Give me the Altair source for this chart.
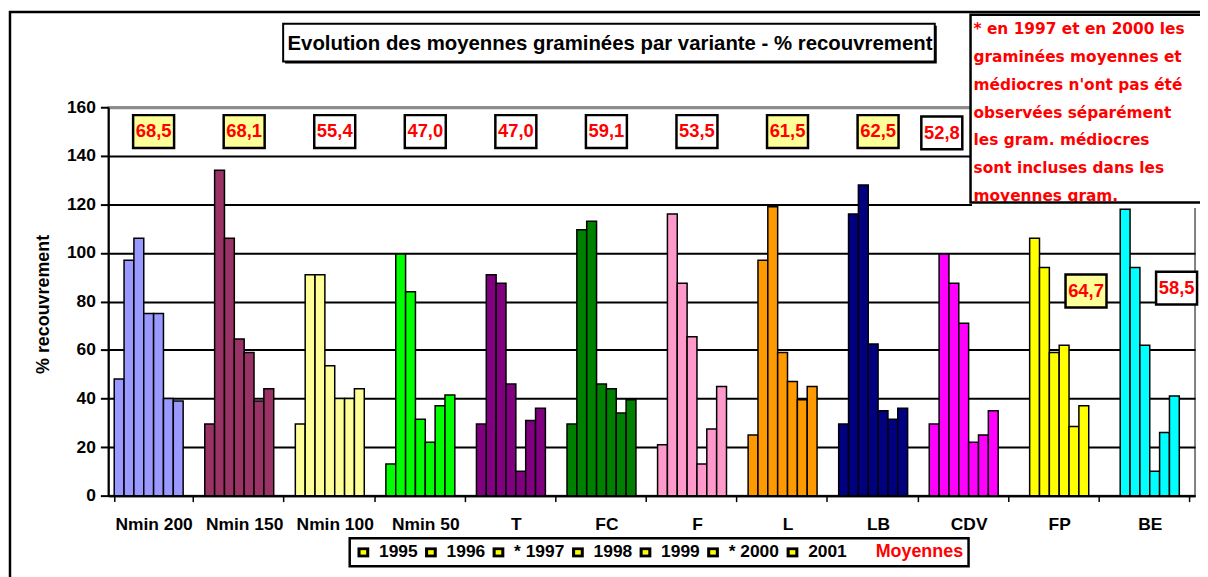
import altair as alt
import pandas as pd

# ---------------- data ----------------
categories = ["Nmin 200", "Nmin 150", "Nmin 100", "Nmin 50", "T", "FC",
              "F", "L", "LB", "CDV", "FP", "BE"]
years = ["1995", "1996", "* 1997", "1998", "1999", "* 2000", "2001"]
series_keys = years + ["Moyennes"]

v_nmin200 = [48, 97, 106, 75, 75, 40, 39]
v_nmin150 = [29.5, 134, 106, 64.5, 59, 39, 44]
v_nmin100 = [29.5, 91, 91, 53.5, 40, 40, 44]
v_nmin50 = [13, 99.5, 84, 31.5, 22, 37, 41.5]
v_t = [29.5, 91, 87.5, 46, 10, 31, 36]
v_fc = [29.5, 109.5, 113, 46, 44, 34, 39.5]
v_f = [21, 116, 87.5, 65.5, 13, 27.5, 45]
v_l = [25, 97, 119, 59, 47, 39.5, 45]
v_lb = [29.5, 116, 128, 62.5, 35, 31.5, 36]
v_cdv = [29.5, 99.5, 87.5, 71, 22, 25, 35]
v_fp = [None, 106, 94, 59, 62, 28.5, 37]
v_be = [None, 118, 94, 62, 10, 26, 41]
all_values = [v_nmin200, v_nmin150, v_nmin100, v_nmin50, v_t, v_fc,
              v_f, v_l, v_lb, v_cdv, v_fp, v_be]

colors = ["#9999FF", "#993366", "#FFFF99", "#00FF00", "#800080", "#008000",
          "#FF99CC", "#FF9900", "#000080", "#FF00FF", "#FFFF00", "#00FFFF"]

means = ["68,5", "68,1", "55,4", "47,0", "47,0", "59,1",
         "53,5", "61,5", "62,5", "52,8", "64,7", "58,5"]
means_highlight = [1, 1, 0, 0, 0, 0, 0, 1, 1, 0, 1, 0]
means_level = [150, 150, 150, 150, 150, 150, 150, 150, 150, 149.4, 84.3, 85.5]

title_text = "Evolution des moyennes graminées par variante - % recouvrement"
note_lines = ["* en 1997 et en 2000 les",
              "graminées moyennes et",
              "médiocres n'ont pas été",
              "observées séparément",
              "les  gram. médiocres",
              "sont incluses dans les",
              "moyennes gram."]

rows = []
for cat, vals in zip(categories, all_values):
    for yr, v in zip(years, vals):
        if v is not None:
            rows.append({"category": cat, "year": yr, "value": v})
bars_df = pd.DataFrame(rows)
labels_df = pd.DataFrame({"category": categories, "mean": means,
                          "hl": means_highlight, "ypos": means_level})
one = pd.DataFrame({"k": [0]})

# ---------------- styling ----------------
W, H = 1094, 391
FONT = "Liberation Sans"


def xenc():
    return alt.X("category:N", sort=categories,
                 scale=alt.Scale(domain=categories, paddingInner=0.13, paddingOuter=0.065),
                 axis=alt.Axis(title=None, labelAngle=0, labelFont=FONT, labelFontSize=17.5,
                               labelFontWeight="bold", labelColor="black", labelPadding=14,
                               tickSize=6, tickColor="black", tickWidth=1.5, tickBand="extent",
                               domainColor="black", domainWidth=2, grid=False))


def yenc(field):
    return alt.Y(field, scale=alt.Scale(domain=[0, 160], nice=False),
                 axis=alt.Axis(title="% recouvrement", values=list(range(0, 161, 20)),
                               titleFont=FONT, titleFontSize=18, titleFontWeight="bold",
                               titleColor="black", titleAngle=270, titleBaseline="bottom",
                               titleAlign="center", titleX=-56, titleY=198,
                               labelFont=FONT, labelFontSize=17.5, labelFontWeight="bold",
                               labelColor="black", labelPadding=5,
                               tickSize=8, tickColor="black", tickWidth=2,
                               domainColor="black", domainWidth=2,
                               grid=True,
                               gridColor={"condition": {"test": "datum.value === 160", "value": "#8c8c8c"}, "value": "black"},
                               gridWidth={"condition": {"test": "datum.value === 160", "value": 3}, "value": 2}))


# outer border of chart area
outer = alt.Chart(one).mark_rect(fill="transparent", stroke="black", strokeWidth=2.5).encode(
    x=alt.value(-99), x2=alt.value(W + 20), y=alt.value(-96), y2=alt.value(H + 100))

bars = alt.Chart(bars_df).mark_bar(stroke="black", strokeWidth=1.5).encode(
    x=xenc(), y=yenc("value:Q"),
    xOffset=alt.XOffset("year:N", sort=series_keys,
                        scale=alt.Scale(domain=series_keys, paddingInner=0, paddingOuter=0)),
    fill=alt.Fill("category:N", sort=categories,
                  scale=alt.Scale(domain=categories, range=colors), legend=None),
)

# legend: two stacked legends (black outer squares + yellow inner squares)
OUTER_SQ = "M-1,-0.85L1,-0.85L1,0.85L-1,0.85Z"
INNER_SQ = "M-0.48,-0.38L0.48,-0.38L0.48,0.38L-0.48,0.38Z"
NOSYM = "M0,0"


def legend_layer(color, path, visible_labels):
    return alt.Chart(bars_df).transform_filter("false").mark_point(
        filled=True, color=color, fill=color, opacity=1, size=140).encode(
        x=xenc(), y=yenc("value:Q"),
        shape=alt.Shape("year:N",
                        scale=alt.Scale(domain=series_keys, range=[path] * 7 + [NOSYM]),
                        legend=alt.Legend(
                            title=None, orient="none", legendX=243, legendY=434,
                            direction="horizontal", padding=5,
                            strokeColor="black" if visible_labels else "transparent",
                            labelFont=FONT, labelFontWeight="bold",
                            labelFontSize=alt.ExprRef("datum.value == 'Moyennes' ? 18 : 17.5"),
                            labelColor=alt.ExprRef("datum.value == 'Moyennes' ? '#FF0000' : '#000000'"),
                            labelOpacity=1 if visible_labels else 0,
                            symbolSize=140, symbolFillColor=color, symbolStrokeWidth=0,
                            labelOffset=7, columnPadding=4)),
    )


leg_black = legend_layer("black", OUTER_SQ, True)
leg_yellow = legend_layer("#FFFF00", INNER_SQ, False)

BOX = "M-1.25,-1L1.25,-1L1.25,1L-1.25,1Z"


def label_layer(filt, dx):
    base = alt.Chart(labels_df).transform_filter(filt)
    box = base.mark_point(shape=BOX, size=1089, filled=True, stroke="black",
                          strokeWidth=2.5, opacity=1, xOffset=dx).encode(
        x=xenc(), y=yenc("ypos:Q"),
        fill=alt.condition("datum.hl == 1", alt.value("#FFFF99"), alt.value("white")))
    txt = base.mark_text(font=FONT, fontSize=18.5, fontWeight="bold", color="#FF0000",
                         baseline="middle", align="center", xOffset=dx).encode(
        x=xenc(), y=yenc("ypos:Q"), text="mean:N")
    return [box, txt]


lab_a = label_layer("datum.category != 'CDV' && datum.category != 'FP' && datum.category != 'BE'", 0)
lab_b = label_layer("datum.category == 'CDV'", -27)
lab_c = label_layer("datum.category == 'FP' || datum.category == 'BE'", 27)

# title box
title_shadow = alt.Chart(one).mark_rect(fill="black").encode(
    x=alt.value(178), x2=alt.value(834), y=alt.value(-82), y2=alt.value(-44))
title_box = alt.Chart(one).mark_rect(fill="white", stroke="black", strokeWidth=2).encode(
    x=alt.value(176), x2=alt.value(832), y=alt.value(-84), y2=alt.value(-46))
title_txt = alt.Chart(one).mark_text(font=FONT, fontSize=20.5, fontWeight="bold",
                                     color="black", align="center", baseline="middle").encode(
    x=alt.value(505), y=alt.value(-64), text=alt.value(title_text))

# note box (top right)
note_bg = alt.Chart(one).mark_rect(fill="white").encode(
    x=alt.value(868), x2=alt.value(W + 20), y=alt.value(-93), y2=alt.value(96))
note_txt = alt.Chart(one).mark_text(font="DejaVu Sans", fontSize=15.5, fontWeight="bold",
                                    color="#FF0000", align="left", baseline="top",
                                    lineHeight=28).encode(
    x=alt.value(871), y=alt.value(-85.5), text=alt.value(note_lines))
note_cover = alt.Chart(one).mark_rect(fill="white").encode(
    x=alt.value(869.5), x2=alt.value(W + 20), y=alt.value(96), y2=alt.value(101.5))
note_border = alt.Chart(one).mark_rect(fill="transparent", stroke="black", strokeWidth=2.5).encode(
    x=alt.value(868), x2=alt.value(W + 20), y=alt.value(-93), y2=alt.value(96))

chart = alt.layer(
    outer, bars, leg_black, leg_yellow, *lab_a, *lab_b, *lab_c,
    title_shadow, title_box, title_txt,
    note_bg, note_txt, note_cover, note_border,
).resolve_scale(shape="independent").resolve_legend(shape="independent").properties(
    width=W, height=H,
    autosize=alt.AutoSizeParams(type="none"),
    padding={"left": 101, "top": 98, "right": 5, "bottom": 80},
    background="white",
).configure_view(stroke="#808080", strokeWidth=2).configure_legend(strokeWidth=2.5)

chart.save("out.html", embed_options={"renderer": "svg", "actions": False})
